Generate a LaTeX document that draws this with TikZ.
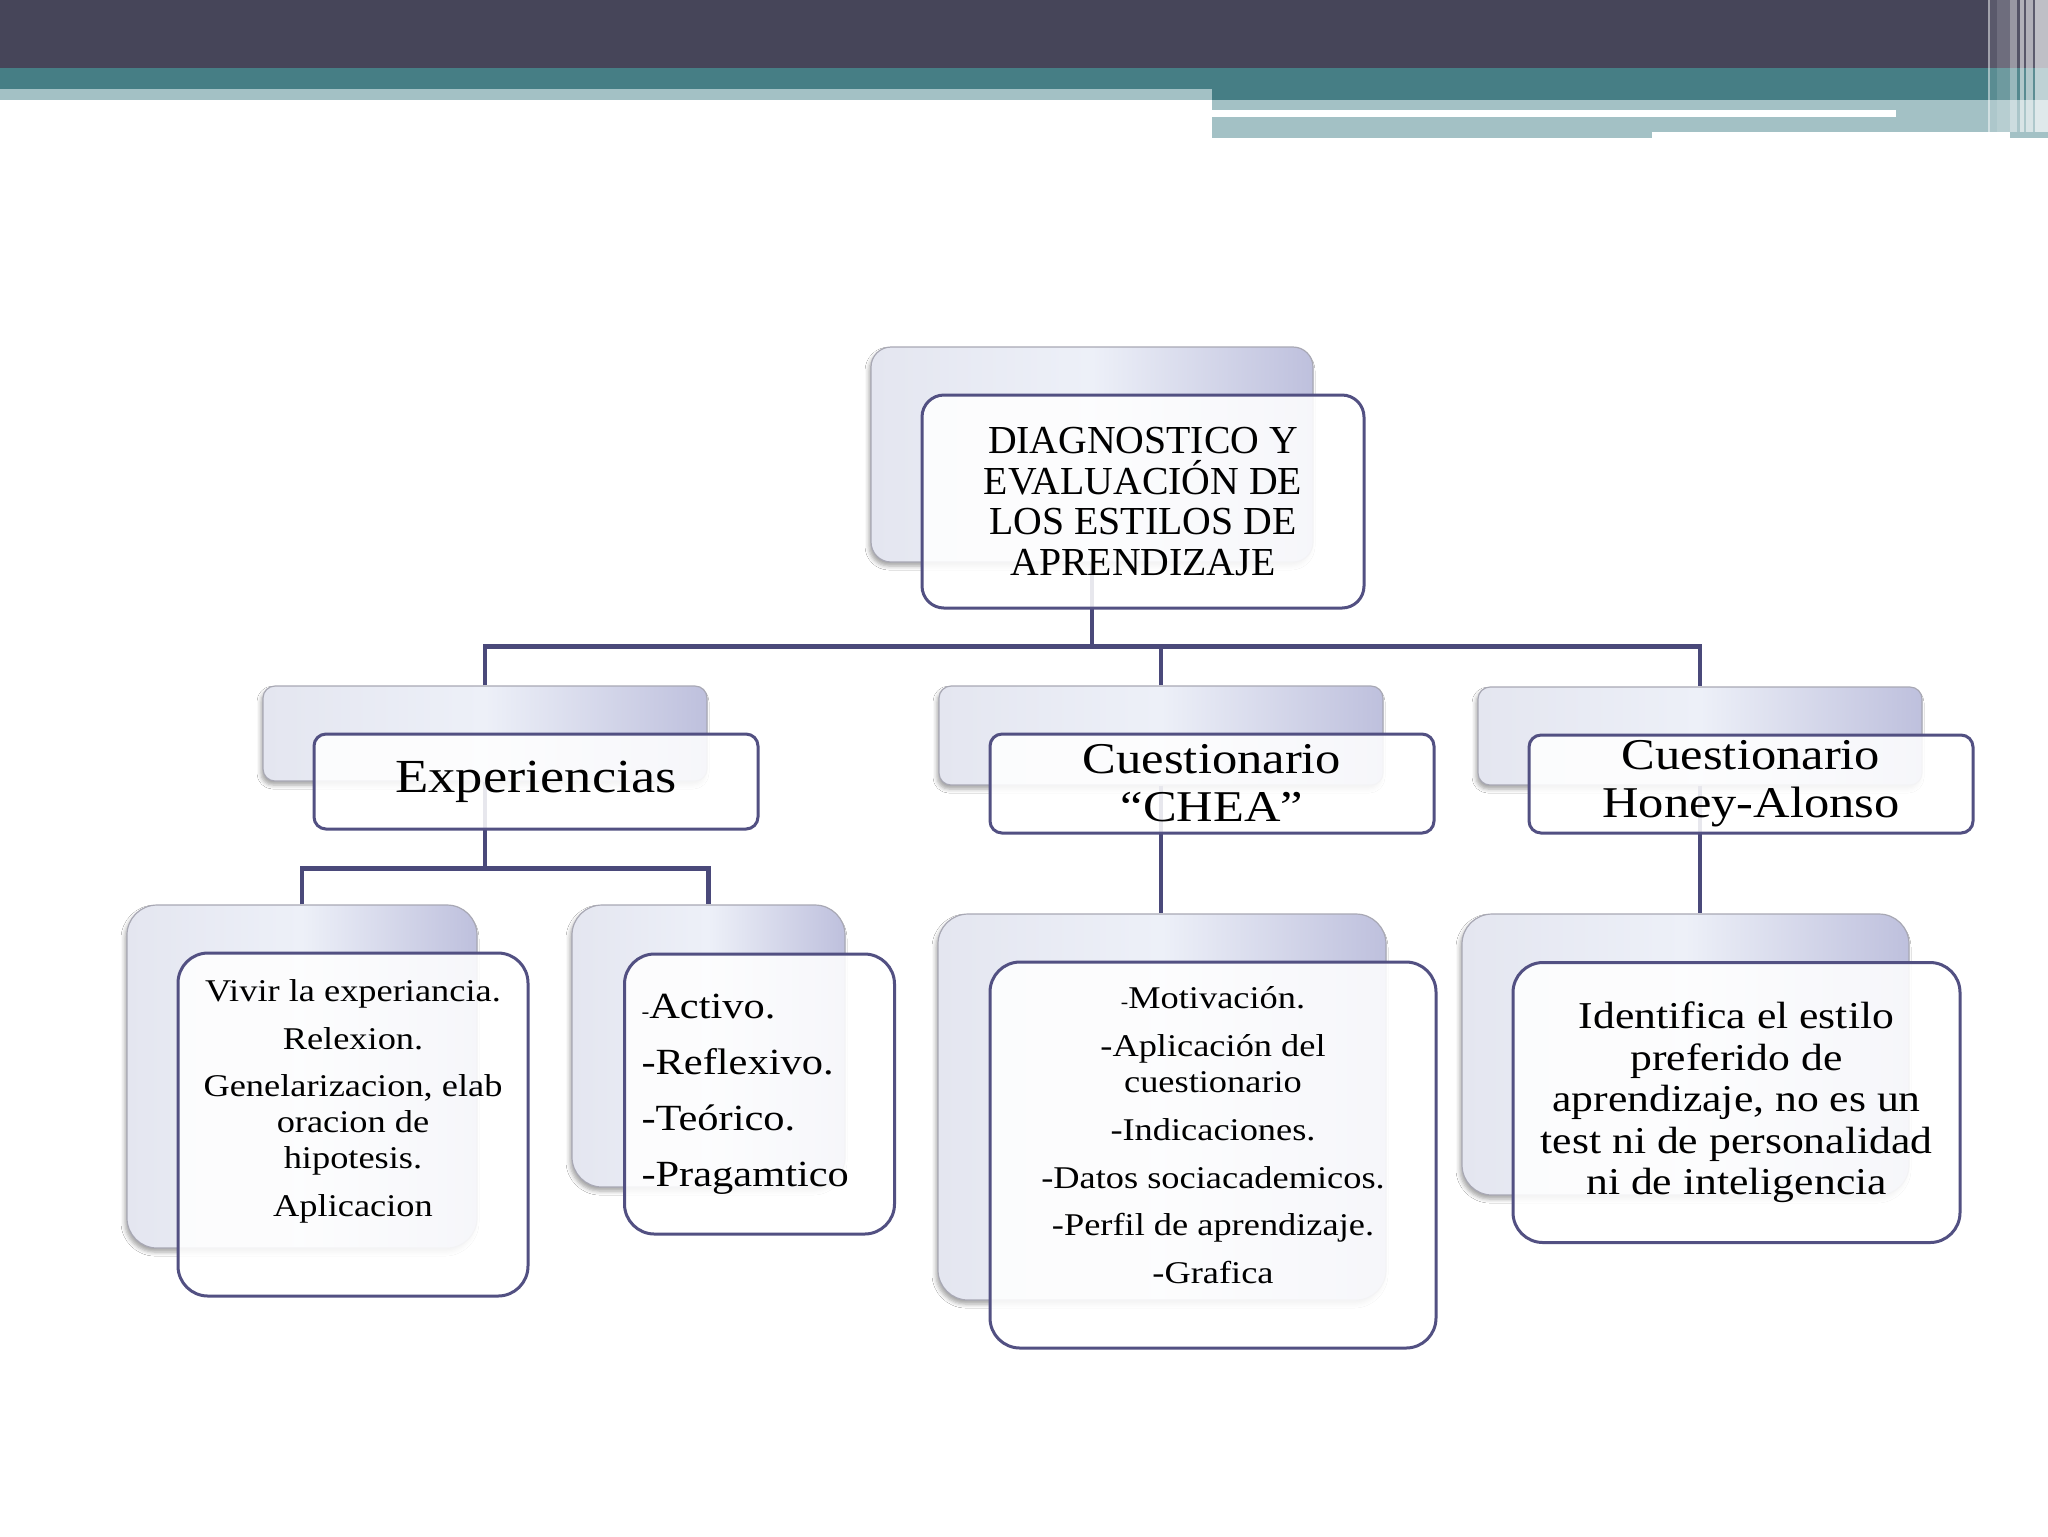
\documentclass[tikz,border=0pt]{standalone}
\usepackage{fontspec}
\setmainfont{Liberation Serif}
\newfontfamily\georgia[FakeStretch=1.15]{Liberation Serif}
\usepackage{xcolor}
\definecolor{banDark}{RGB}{70,69,89}
\definecolor{banTeal}{RGB}{70,126,133}
\definecolor{banLight}{RGB}{163,193,197}
\definecolor{cardL}{RGB}{228,230,240}
\definecolor{cardM}{RGB}{237,240,248}
\definecolor{cardR}{RGB}{190,192,221}
\definecolor{cardEdge}{RGB}{168,168,180}
\definecolor{boxLine}{RGB}{82,80,130}
\definecolor{linkBlue}{RGB}{74,73,122}
\usetikzlibrary{calc,shadows.blur}

\begin{document}
\begin{tikzpicture}[x=0.1mm,y=-0.1mm,
  card/.style={draw=cardEdge,line width=0.12mm,left color=cardL,right color=cardR,middle color=cardM,
    blur shadow={shadow xshift=-0.2mm,shadow yshift=-0.4mm,shadow blur radius=0.4mm,shadow opacity=35}},
  box/.style={draw=boxLine,line width=0.3mm,fill=white,fill opacity=0.87,text opacity=1,align=center,inner sep=0pt},
  sz/.style 2 args={minimum width=#1,minimum height=#2},
  link/.style={draw=linkBlue,line width=0.45mm}]
  \useasboundingbox (0,0) rectangle (2048,1536);
  \fill[white] (0,0) rectangle (2048,1536);

  % banner
  \fill[banDark] (0,0) rectangle (2048,68);
  \fill[banTeal] (0,68) rectangle (2048,100);
  \fill[banLight] (0,89) rectangle (1212,100);
  \fill[banLight] (1212,100) rectangle (2010,132);
  \fill[banLight] (1212,132) rectangle (1652,138);
  \fill[banLight] (2010,100) rectangle (2048,138);
  \fill[white] (1212,110) rectangle (1896,117);
  \foreach \a/\b/\o in {1988/1990/.5,1990/1997/.11,1997/2010/.22,2010/2017/.45,2017/2020/.08,
                        2020/2024/.58,2024/2026/.1,2026/2033/.58,2033/2035/.12,2035/2048/.66}
    \fill[white,opacity=\o] (\a,0) rectangle (\b,132);

  % back cards
  \node[card,sz={44.2mm}{21.5mm},rounded corners=2mm] (diagS) at (1092,454.5) {};
  \node[card,sz={44.4mm}{9.5mm},rounded corners=1.2mm] (experS) at (485,733.5) {};
  \node[card,sz={44.4mm}{9.9mm},rounded corners=1.2mm] (cheaS) at (1161,735.5) {};
  \node[card,sz={44.4mm}{9.8mm},rounded corners=1.2mm] (honeyS) at (1700,736) {};
  \node[card,sz={35mm}{34.3mm},rounded corners=3mm] (vivirS) at (302,1076.5) {};
  \node[card,sz={27.3mm}{28.2mm},rounded corners=3mm] (activoS) at (708.5,1046) {};
  \node[card,sz={44.8mm}{38.6mm},rounded corners=3mm] (cheaPS) at (1162,1107) {};
  \node[card,sz={44.7mm}{28.1mm},rounded corners=3mm] (honeyDS) at (1685.5,1054.5) {};

  % connectors
  \coordinate (bus1) at ($(diagS.south)+(0,84)$);
  \draw[link] (diagS.south) -- (bus1);
  \draw[link] (experS.north) |- (bus1) -| (honeyS.north);
  \draw[link] (cheaS.north) -- (cheaS.north |- bus1);
  \coordinate (bus2) at ($(experS.south)+(0,87)$);
  \draw[link] (experS.south) -- (bus2);
  \draw[link] (vivirS.north) |- (bus2) -| (activoS.north);
  \draw[link] (cheaS.south) -- (cheaS.south |- cheaPS.north);
  \draw[link] (honeyS.south) -- (honeyS.south |- honeyDS.north);

  % front boxes
  \node[box,sz={44.2mm}{21.3mm},rounded corners=2.2mm,font=\fontsize{11.3}{11.6}\selectfont] (diag)
    at ($(diagS)+(51,47)$) {DIAGNOSTICO Y\\EVALUACIÓN DE\\LOS ESTILOS DE\\APRENDIZAJE};
  \node[box,sz={44.4mm}{9.5mm},rounded corners=1.2mm,font=\georgia\fontsize{13.5}{14}\selectfont] (exper)
    at ($(experS)+(51,48)$) {Experiencias};
  \node[box,sz={44.4mm}{9.9mm},rounded corners=1.2mm,font=\georgia\fontsize{12.5}{13.6}\selectfont] (chea)
    at ($(cheaS)+(51,48)$) {Cuestionario\\“CHEA”};
  \node[box,sz={44.4mm}{9.8mm},rounded corners=1.2mm,font=\georgia\fontsize{12.5}{13.6}\selectfont] (honey)
    at ($(honeyS)+(51,48)$) {Cuestionario\\Honey-Alonso};
  \node[box,sz={35mm}{34.3mm},rounded corners=3mm,font=\georgia\fontsize{9}{10.2}\selectfont] (vivir)
    at ($(vivirS)+(51,48)$) {Vivir la experiancia.\\[3.4pt]Relexion.\\[3.4pt]Genelarizacion, elab\\oracion de\\hipotesis.\\[3.4pt]Aplicacion\\[5pt]\mbox{}};
  \node[box,sz={27mm}{28mm},rounded corners=3mm,text width=23.6mm,inner xsep=1.7mm,align=left,
        font=\georgia\fontsize{10.5}{15.9}\selectfont] (activo)
    at ($(activoS)+(51,48)$) {{\fontsize{5.8}{5}\selectfont-}Activo.\\-Reflexivo.\\-Teórico.\\-Pragamtico};
  \node[box,sz={44.6mm}{38.6mm},rounded corners=3mm,font=\georgia\fontsize{9}{10.2}\selectfont] (cheaP)
    at ($(cheaPS)+(51,48)$) {{\fontsize{5.5}{5}\selectfont-}Motivación.\\[3.4pt]-Aplicación del\\cuestionario\\[3.4pt]-Indicaciones.\\[3.4pt]-Datos sociacademicos.\\[3.4pt]-Perfil de aprendizaje.\\[3.4pt]-Grafica\\[1pt]\mbox{}};
  \node[box,sz={44.7mm}{28mm},rounded corners=3mm,font=\georgia\fontsize{10.8}{11.8}\selectfont] (honeyD)
    at ($(honeyDS)+(51,48)$) {Identifica el estilo\\preferido de\\aprendizaje, no es un\\test ni de personalidad\\ni de inteligencia};
\end{tikzpicture}
\end{document}
